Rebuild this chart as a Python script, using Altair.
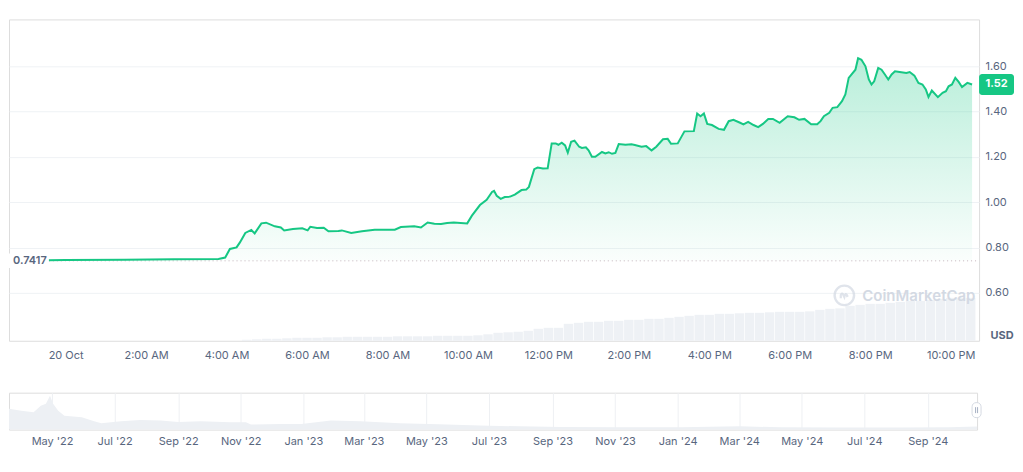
import altair as alt
import pandas as pd

# ---------------- data ----------------
price_times = [
    "2024-10-19T22:43", "2024-10-20T00:00", "2024-10-20T01:28", "2024-10-20T02:42", "2024-10-20T03:48",
    "2024-10-20T03:58", "2024-10-20T04:05", "2024-10-20T04:15", "2024-10-20T04:20", "2024-10-20T04:28",
    "2024-10-20T04:37", "2024-10-20T04:42", "2024-10-20T04:52", "2024-10-20T04:59", "2024-10-20T05:12",
    "2024-10-20T05:21", "2024-10-20T05:26", "2024-10-20T05:39", "2024-10-20T05:53", "2024-10-20T06:01",
    "2024-10-20T06:05", "2024-10-20T06:15", "2024-10-20T06:25", "2024-10-20T06:32", "2024-10-20T06:47",
    "2024-10-20T06:52", "2024-10-20T07:06", "2024-10-20T07:22", "2024-10-20T07:41", "2024-10-20T08:11",
    "2024-10-20T08:20", "2024-10-20T08:40", "2024-10-20T08:50", "2024-10-20T09:00", "2024-10-20T09:10",
    "2024-10-20T09:20", "2024-10-20T09:29", "2024-10-20T09:39", "2024-10-20T09:59", "2024-10-20T10:06",
    "2024-10-20T10:18", "2024-10-20T10:28", "2024-10-20T10:36", "2024-10-20T10:39", "2024-10-20T10:43",
    "2024-10-20T10:49", "2024-10-20T10:55", "2024-10-20T11:03", "2024-10-20T11:10", "2024-10-20T11:20",
    "2024-10-20T11:27", "2024-10-20T11:31", "2024-10-20T11:39", "2024-10-20T11:44", "2024-10-20T11:52",
    "2024-10-20T11:59", "2024-10-20T12:05", "2024-10-20T12:11", "2024-10-20T12:15", "2024-10-20T12:20",
    "2024-10-20T12:25", "2024-10-20T12:29", "2024-10-20T12:34", "2024-10-20T12:39", "2024-10-20T12:46",
    "2024-10-20T12:50", "2024-10-20T12:56", "2024-10-20T13:00", "2024-10-20T13:05", "2024-10-20T13:10",
    "2024-10-20T13:20", "2024-10-20T13:25", "2024-10-20T13:30", "2024-10-20T13:35", "2024-10-20T13:40",
    "2024-10-20T13:45", "2024-10-20T13:55", "2024-10-20T14:04", "2024-10-20T14:09", "2024-10-20T14:19",
    "2024-10-20T14:26", "2024-10-20T14:34", "2024-10-20T14:41", "2024-10-20T14:51", "2024-10-20T14:58",
    "2024-10-20T15:03", "2024-10-20T15:13", "2024-10-20T15:23", "2024-10-20T15:37", "2024-10-20T15:42",
    "2024-10-20T15:47", "2024-10-20T15:52", "2024-10-20T15:57", "2024-10-20T16:04", "2024-10-20T16:14",
    "2024-10-20T16:22", "2024-10-20T16:29", "2024-10-20T16:36", "2024-10-20T16:46", "2024-10-20T16:51",
    "2024-10-20T16:58", "2024-10-20T17:06", "2024-10-20T17:13", "2024-10-20T17:20", "2024-10-20T17:28",
    "2024-10-20T17:35", "2024-10-20T17:45", "2024-10-20T17:57", "2024-10-20T18:07", "2024-10-20T18:14",
    "2024-10-20T18:22", "2024-10-20T18:32", "2024-10-20T18:41", "2024-10-20T18:46", "2024-10-20T18:51",
    "2024-10-20T18:59", "2024-10-20T19:04", "2024-10-20T19:11", "2024-10-20T19:18", "2024-10-20T19:23",
    "2024-10-20T19:28", "2024-10-20T19:38", "2024-10-20T19:42", "2024-10-20T19:47", "2024-10-20T19:53",
    "2024-10-20T19:58", "2024-10-20T20:02", "2024-10-20T20:06", "2024-10-20T20:12", "2024-10-20T20:17",
    "2024-10-20T20:22", "2024-10-20T20:27", "2024-10-20T20:32", "2024-10-20T20:37", "2024-10-20T20:44",
    "2024-10-20T20:54", "2024-10-20T20:59", "2024-10-20T21:06", "2024-10-20T21:12", "2024-10-20T21:18",
    "2024-10-20T21:23", "2024-10-20T21:27", "2024-10-20T21:32", "2024-10-20T21:41", "2024-10-20T21:48",
    "2024-10-20T21:53", "2024-10-20T21:57", "2024-10-20T22:02", "2024-10-20T22:07", "2024-10-20T22:12",
    "2024-10-20T22:17", "2024-10-20T22:25", "2024-10-20T22:32",
]
price_values = [
    0.7417, 0.745, 0.747, 0.749, 0.750,
    0.756, 0.794, 0.801, 0.823, 0.865,
    0.878, 0.863, 0.907, 0.910, 0.894,
    0.889, 0.876, 0.882, 0.885, 0.876,
    0.892, 0.887, 0.888, 0.872, 0.873,
    0.876, 0.865, 0.872, 0.879, 0.879,
    0.891, 0.894, 0.889, 0.911, 0.905,
    0.904, 0.909, 0.911, 0.907, 0.941,
    0.988, 1.011, 1.046, 1.051, 1.029,
    1.015, 1.023, 1.025, 1.034, 1.054,
    1.056, 1.068, 1.146, 1.153, 1.149,
    1.150, 1.260, 1.260, 1.254, 1.263,
    1.251, 1.219, 1.267, 1.272, 1.245,
    1.240, 1.243, 1.229, 1.201, 1.201,
    1.222, 1.216, 1.221, 1.214, 1.218,
    1.257, 1.254, 1.256, 1.253, 1.245,
    1.248, 1.229, 1.245, 1.278, 1.280,
    1.258, 1.260, 1.313, 1.314, 1.392,
    1.380, 1.392, 1.346, 1.341, 1.324,
    1.320, 1.358, 1.364, 1.351, 1.344,
    1.355, 1.341, 1.332, 1.346, 1.368,
    1.368, 1.351, 1.380, 1.375, 1.364,
    1.368, 1.344, 1.344, 1.358, 1.380,
    1.395, 1.417, 1.420, 1.446, 1.476,
    1.549, 1.585, 1.636, 1.629, 1.600,
    1.542, 1.520, 1.534, 1.593, 1.585,
    1.564, 1.542, 1.564, 1.578, 1.575,
    1.571, 1.575, 1.559, 1.527, 1.520,
    1.498, 1.465, 1.493, 1.464, 1.483,
    1.490, 1.512, 1.520, 1.549, 1.531,
    1.509, 1.527, 1.520,
]
open_price = 0.7417
last_price = 1.52

vol_start = "2024-10-20T04:30"
vol_values = [
    1, 1.5, 2, 2, 2.5, 3, 3, 3, 3.5, 3.5, 4, 4, 4, 4, 4, 4.5, 4.5, 4.5, 4.5, 5,
    5, 5, 5, 5.5, 6.5, 8, 8.5, 9, 10, 12, 13, 13, 17, 18, 19, 19, 20, 20, 21, 21,
    22, 22, 23, 24, 25, 26, 26, 27, 27, 27.5, 28, 28, 28.5, 29, 29, 29, 29.5, 31, 32, 32.5,
    35, 36, 37, 37, 38, 39, 40, 40, 41, 42, 43, 43, 43,
]

nav_dates = [
    "2022-03-20", "2022-04-01", "2022-04-13", "2022-04-20", "2022-04-25", "2022-04-29", "2022-05-02",
    "2022-05-07", "2022-05-13", "2022-05-30", "2022-06-11", "2022-06-18", "2022-07-07", "2022-07-26",
    "2022-08-15", "2022-09-01", "2022-09-23", "2022-10-22", "2022-11-06", "2022-11-11", "2022-12-10",
    "2022-12-30", "2023-01-28", "2023-02-26", "2023-04-05", "2023-05-13", "2023-06-22", "2023-07-31",
    "2023-09-09", "2023-11-06", "2024-01-04", "2024-03-02", "2024-04-10", "2024-06-07", "2024-08-04",
    "2024-09-22", "2024-10-19",
]
nav_values = [
    21, 19, 17.3, 24, 26, 34, 26, 19, 14, 12.3, 8.3, 6.3, 8.3, 9.7, 9, 7.7, 8.3, 7.3, 7.3, 5,
    5.7, 5.7, 9, 8.3, 6.3, 5.3, 4, 3.3, 2.7, 2.3, 2.3, 3.3, 2.3, 2, 2, 2.3, 3,
]

x_tick_hours = list(range(0, 24, 2))
y_ticks = [0.6, 0.8, 1.0, 1.2, 1.4, 1.6]
nav_tick_months = [(2022, 5), (2022, 7), (2022, 9), (2022, 11), (2023, 1), (2023, 3), (2023, 5),
                   (2023, 7), (2023, 9), (2023, 11), (2024, 1), (2024, 3), (2024, 5), (2024, 7), (2024, 9)]

# ---------------- styling ----------------
GREEN = "#16c784"
TEXT = "#58667e"
GRID = "#eff2f5"
FONT = "Inter"

price_df = pd.DataFrame({"t": price_times, "price": price_values})
price_df["base"] = open_price
vol_times = pd.date_range(vol_start, periods=len(vol_values), freq="15min").strftime("%Y-%m-%dT%H:%M")
vol_df = pd.DataFrame({"t": list(vol_times), "vol": vol_values})
base_df = pd.DataFrame({"price": [open_price], "label": [f"{open_price}"],
                        "hi": [open_price + 0.032], "lo": [open_price - 0.032]})
last_df = pd.DataFrame({"price": [last_price], "label": [f"{last_price:.2f}"],
                        "hi": [last_price + 0.046], "lo": [last_price - 0.046]})
nav_df = pd.DataFrame({"d": nav_dates, "v": nav_values})

x_scale = alt.Scale(domain=[alt.DateTime(year=2024, month=10, date=19, hours=22, minutes=43),
                            alt.DateTime(year=2024, month=10, date=20, hours=22, minutes=35)])
x_axis = alt.Axis(
    values=[alt.DateTime(year=2024, month=10, date=20, hours=h) for h in x_tick_hours],
    labelExpr="hours(datum.value) == 0 ? '20 Oct' : timeFormat(datum.value, '%-I:%M %p')",
    grid=False, ticks=False, domain=False, labelPadding=9, labelFontSize=11,
    labelColor=TEXT, labelFont=FONT, labelFlush=False,
)
X = alt.X("t:T", scale=x_scale, axis=x_axis, title=None)

p_scale = alt.Scale(domain=[0.389, 1.807], nice=False, zero=False)
p_axis = alt.Axis(orient="right", values=y_ticks, format=".2f", grid=True, gridColor=GRID,
                  domain=False, ticks=False, labelPadding=6, labelFontSize=11,
                  labelColor=TEXT, labelFont=FONT)


def PY(field):
    return alt.Y(field, scale=p_scale, axis=p_axis, title=None)


vol = alt.Chart(vol_df).mark_bar(width=9.4, color="#eef1f5").encode(
    x=X, y=alt.Y("vol:Q", scale=alt.Scale(domain=[0, 322]), axis=None)
)

area = alt.Chart(price_df).mark_area(
    color=alt.Gradient(gradient="linear",
                       stops=[alt.GradientStop(color="rgba(22,199,132,0.30)", offset=0),
                              alt.GradientStop(color="rgba(22,199,132,0.02)", offset=1)],
                       x1=1, x2=1, y1=0, y2=1)
).encode(x=X, y=PY("price:Q"), y2="base:Q")

rule = alt.Chart(base_df).mark_rule(color="#c4b4bc", strokeDash=[1, 3], strokeWidth=1).encode(
    x=alt.value(40), x2=alt.value(972), y=PY("price:Q")
)

line = alt.Chart(price_df).mark_line(color=GREEN, strokeWidth=2).encode(x=X, y=PY("price:Q"))

lbl_bg = alt.Chart(base_df).mark_rect(color="white").encode(
    x=alt.value(0), x2=alt.value(40), y=PY("hi:Q"), y2="lo:Q"
)
lbl_txt = alt.Chart(base_df).mark_text(align="left", font=FONT, fontSize=11, fontWeight=600,
                                       color=TEXT).encode(x=alt.value(4), y=PY("price:Q"), text="label:N")

tag = alt.Chart(last_df).mark_rect(color=GREEN, cornerRadius=3).encode(
    x=alt.value(972), x2=alt.value(1007), y=PY("hi:Q"), y2="lo:Q"
)
tag_txt = alt.Chart(last_df).mark_text(font=FONT, fontSize=11, fontWeight=700, color="white").encode(
    x=alt.value(989.5), y=PY("price:Q"), text="label:N"
)

price_layer = alt.layer(area, rule, line, lbl_bg, lbl_txt, tag, tag_txt)

usd = alt.Chart(pd.DataFrame({"label": ["USD"]})).mark_text(
    font=FONT, fontSize=11, fontWeight=700, color=TEXT
).encode(x=alt.value(995), y=alt.value(317), text="label:N")

wm_circle = alt.Chart(pd.DataFrame({"k": [1]})).mark_point(
    shape="circle", size=380, filled=False, color="#d3d9e3", strokeWidth=2.4
).encode(x=alt.value(837), y=alt.value(276.5))
wm_wave = alt.Chart(pd.DataFrame({"k": [1]})).mark_point(
    shape="M-0.55,0.45 L-0.55,-0.05 Q-0.35,-0.55 -0.1,0.05 L0.0,0.25 Q0.2,-0.55 0.42,0.1 L0.6,0.0",
    size=170, filled=False, color="#d3d9e3", strokeWidth=2.2
).encode(x=alt.value(837), y=alt.value(276.5))
wm_text = alt.Chart(pd.DataFrame({"label": ["CoinMarketCap"]})).mark_text(
    align="left", font=FONT, fontSize=15, fontWeight=600, color="#d3d9e3"
).encode(x=alt.value(855), y=alt.value(277.5), text="label:N")

main = alt.layer(vol, price_layer, usd, wm_circle, wm_wave, wm_text).resolve_scale(
    y="independent"
).properties(width=972, height=322)

# ---------------- navigator ----------------
nav_x = alt.X(
    "d:T",
    scale=alt.Scale(domain=[alt.DateTime(year=2022, month=3, date=20),
                            alt.DateTime(year=2024, month=10, date=19)]),
    axis=alt.Axis(values=[alt.DateTime(year=y, month=m, date=1) for y, m in nav_tick_months],
                  labelExpr="timeFormat(datum.value, \"%b '%y\")", grid=True, gridColor="#eef0f3",
                  ticks=False, domain=False, labelPadding=6, labelFontSize=11,
                  labelColor=TEXT, labelFont=FONT),
    title=None,
)
nav_area = alt.Chart(nav_df).mark_area(color="#edf0f4").encode(
    x=nav_x, y=alt.Y("v:Q", scale=alt.Scale(domain=[0, 37]), axis=None)
)
handle_df = pd.DataFrame({"k": [1]})
handle = alt.Chart(handle_df).mark_rect(fill="white", stroke="#d5dae2", strokeWidth=1,
                                        cornerRadius=4).encode(
    x=alt.value(965), x2=alt.value(974), y=alt.value(10), y2=alt.value(25)
)
grip1 = alt.Chart(handle_df).mark_rule(color="#a6b0c3", strokeWidth=1).encode(
    x=alt.value(968.5), y=alt.value(14.5), y2=alt.value(20.5)
)
grip2 = alt.Chart(handle_df).mark_rule(color="#a6b0c3", strokeWidth=1).encode(
    x=alt.value(970.5), y=alt.value(14.5), y2=alt.value(20.5)
)
nav = alt.layer(nav_area, handle, grip1, grip2).properties(width=970, height=37)

chart = alt.vconcat(main, nav, spacing=52, bounds="flush").properties(
    padding={"left": 0, "top": 10, "right": 0, "bottom": 0}
).configure_view(stroke="#edf0f3").configure(font=FONT)

chart.save("out.html", embed_options={"renderer": "svg", "actions": False})
